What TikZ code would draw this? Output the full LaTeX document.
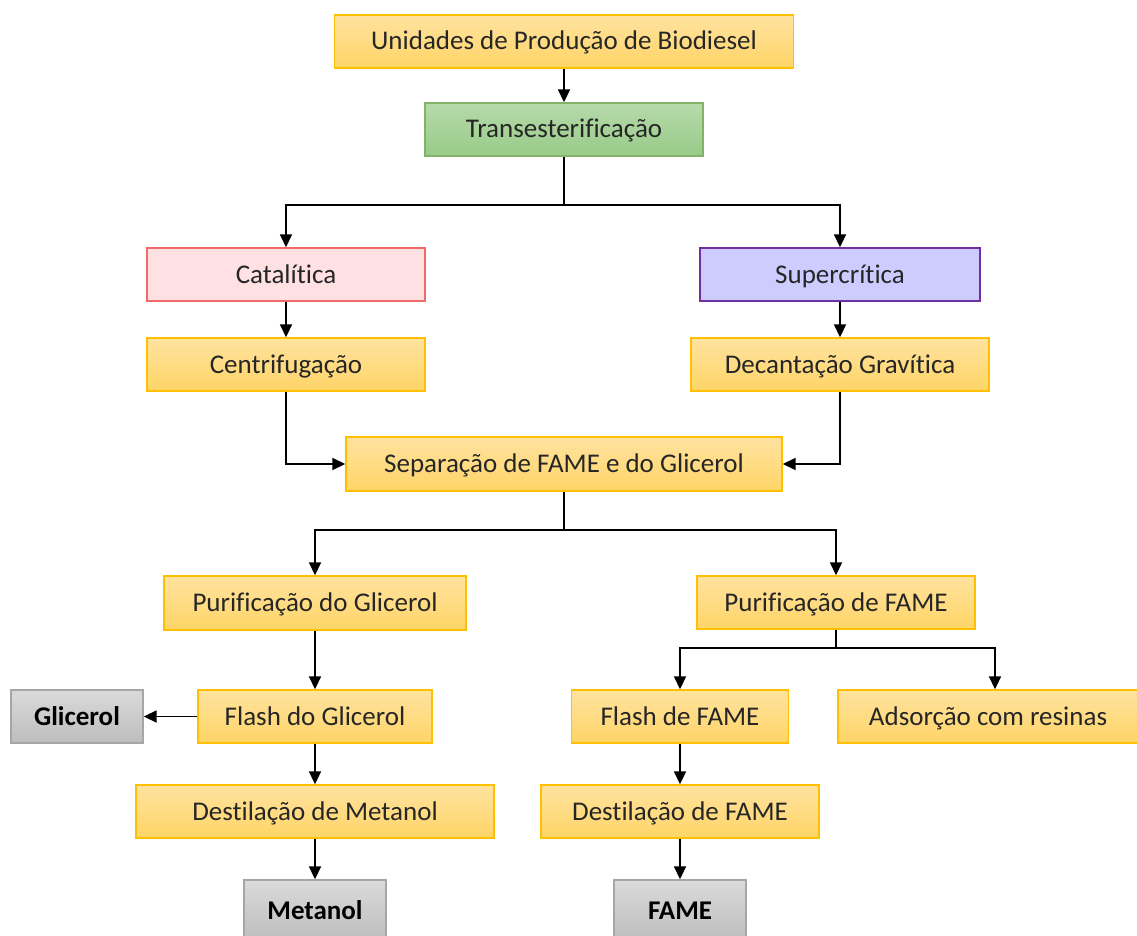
\documentclass[tikz,border=0pt]{standalone}
\usepackage{fontspec}
\setmainfont{Carlito}[Ligatures=NoCommon]
\usetikzlibrary{arrows.meta}
\definecolor{orDraw}{HTML}{FFC000}
\definecolor{orTop}{HTML}{FFE2A0}
\definecolor{orBot}{HTML}{FFD566}
\definecolor{grDraw}{HTML}{82B366}
\definecolor{grTop}{HTML}{B6DAAA}
\definecolor{grBot}{HTML}{98CB88}
\definecolor{pkDraw}{HTML}{F06A6A}
\definecolor{pkFill}{HTML}{FFE0E3}
\definecolor{puDraw}{HTML}{7030A0}
\definecolor{puFill}{HTML}{CCCCFF}
\definecolor{gyDraw}{HTML}{A6A6A6}
\definecolor{gyTop}{HTML}{DADADA}
\definecolor{gyBot}{HTML}{BDBDBD}
\definecolor{txt}{HTML}{262626}
\begin{document}
\begin{tikzpicture}[x=1pt,y=-1pt,
  box/.style={draw, line width=1.4pt, minimum height=53pt, inner sep=0pt,
    text height=23pt, text depth=6pt,
    font=\fontsize{27}{32}\selectfont, text=txt},
  orangebox/.style={box, draw=orDraw, top color=orTop, bottom color=orBot},
  greenbox/.style={box, draw=grDraw, top color=grTop, bottom color=grBot},
  pinkbox/.style={box, draw=pkDraw, fill=pkFill},
  purplebox/.style={box, draw=puDraw, fill=puFill},
  greybox/.style={box, draw=gyDraw, top color=gyTop, bottom color=gyBot,
    font=\fontsize{27}{32}\selectfont\bfseries, text=black},
  arr/.style={-{Triangle[width=12pt,length=13pt]}, line width=1.8pt, draw=black},
  ln/.style={line width=1.8pt, draw=black}
]
\useasboundingbox (0,0) rectangle (1137,936);

\node[orangebox, minimum width=459pt] (u) at (564,41.5) {Unidades de Produção de Biodiesel};
\node[greenbox, minimum width=278pt] (t) at (564,129.5) {Transesterificação};
\node[pinkbox, minimum width=278pt] (cat) at (286,274.5) {Catalítica};
\node[purplebox, minimum width=280pt] (sup) at (840,274.5) {Supercrítica};
\node[orangebox, minimum width=278pt] (cen) at (286,364.5) {Centrifugação};
\node[orangebox, minimum width=298pt] (dec) at (840,364.5) {Decantação Gravítica};
\node[orangebox, minimum width=436pt, minimum height=54pt] (sep) at (564,464) {Separação de FAME e do Glicerol};
\node[orangebox, minimum width=302pt, minimum height=54pt] (pg) at (315,603) {Purificação do Glicerol};
\node[orangebox, minimum width=278pt] (pf) at (836,602.5) {Purificação de FAME};
\node[greybox, minimum width=132pt] (gli) at (77,716.5) {Glicerol};
\node[orangebox, minimum width=234pt] (fg) at (315,716.5) {Flash do Glicerol};
\node[orangebox, minimum width=217pt] (ff) at (680,716.5) {Flash de FAME};
\node[orangebox, minimum width=300pt] (ads) at (988,716.5) {Adsorção com resinas};
\node[orangebox, minimum width=358pt] (dm) at (315,811.5) {Destilação de Metanol};
\node[orangebox, minimum width=278pt] (df) at (680,811.5) {Destilação de FAME};
\node[greybox, minimum width=142pt, minimum height=62pt] (met) at (315,911) {Metanol};
\node[greybox, minimum width=132pt, minimum height=62pt] (fame) at (680,911) {FAME};

\coordinate (j1) at (564,205);
\coordinate (j2) at (564,530);
\coordinate (j3) at (836,648);

\draw[arr] (u) -- (t);
\draw[ln] (t) -- (j1);
\draw[arr] (j1) -| (cat.north);
\draw[arr] (j1) -| (sup.north);
\draw[arr] (cat) -- (cen);
\draw[arr] (sup) -- (dec);
\draw[arr] (cen.south) |- (sep.west);
\draw[arr] (dec.south) |- (sep.east);
\draw[ln] (sep) -- (j2);
\draw[arr] (j2) -| (pg.north);
\draw[arr] (j2) -| (pf.north);
\draw[arr] (pg) -- (fg);
\draw[ln] (pf) -- (j3);
\draw[arr] (j3) -| (ff.north);
\draw[arr] (j3) -| ([xshift=7pt]ads.north);
\draw[arr] (fg) -- (gli);
\draw[arr] (fg) -- (dm);
\draw[arr] (dm) -- (met);
\draw[arr] (ff) -- (df);
\draw[arr] (df) -- (fame);
\end{tikzpicture}
\end{document}
